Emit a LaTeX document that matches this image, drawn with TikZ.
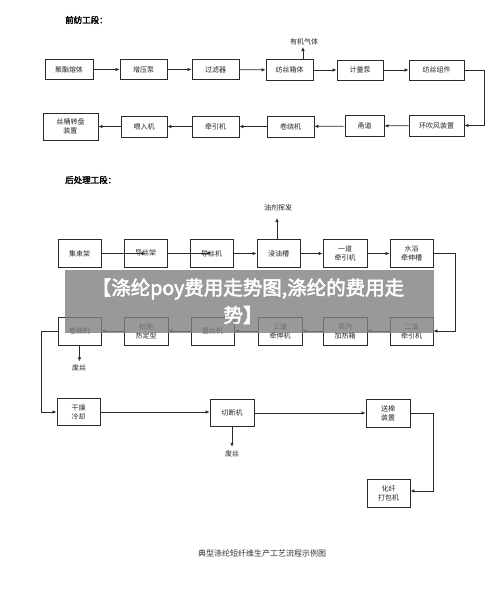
\documentclass[tikz,border=0pt]{standalone}
\usepackage{fontspec}
\setmainfont{Liberation Serif}
\newfontfamily\cjk[AutoFakeBold=2.5]{Noto Sans CJK SC}
\usetikzlibrary{arrows.meta}
\definecolor{ln}{HTML}{2A2A2A}
\tikzset{
  box/.style={draw=ln, line width=0.8pt, inner sep=0pt, align=center,
    font=\cjk\fontsize{7}{9}\selectfont, text=black!85},
  conn/.style={draw=ln, line width=0.7pt, -{Latex[length=4pt,width=3.5pt]}},
  lbl/.style={font=\cjk\fontsize{7}{9}\selectfont, text=black!85, inner sep=0pt},
  ttl/.style={font=\cjk\bfseries\fontsize{8.5}{10}\selectfont, anchor=west, inner sep=0pt},
  bannertext/.style={font=\cjk\bfseries\fontsize{19.5}{23}\selectfont, text=white, inner sep=0pt},
}
\begin{document}
\begin{tikzpicture}[x=1pt,y=-1pt]
\useasboundingbox (0,0) rectangle (500,603);
\fill[white] (0,0) rectangle (500,603);

% ---------- 前纺工段 ----------
\node[ttl] (t1) at (65,20) {前纺工段：};
\node[box, minimum width=48, minimum height=20] (a1) at (69,69.5) {聚酯熔体};
\node[box, minimum width=47, minimum height=20] (a2) at (143.5,69.5) {增压泵};
\node[box, minimum width=47, minimum height=20] (a3) at (215.5,69.5) {过滤器};
\node[box, minimum width=47, minimum height=21] (a4) at (289.5,70) {纺丝箱体};
\node[box, minimum width=46, minimum height=20] (a5) at (360,70) {计量泵};
\node[box, minimum width=55, minimum height=20] (a6) at (436.5,70) {纺丝组件};
\node[lbl] (g1) at (304,42) {有机气体};
\coordinate (g1b) at (303,47);

\node[box, minimum width=55, minimum height=27, text width=40] (b1) at (70.5,126.5) {丝桶转盘\\装置};
\node[box, minimum width=46, minimum height=21] (b2) at (144,126.5) {喂入机};
\node[box, minimum width=47, minimum height=21] (b3) at (215.5,126.5) {牵引机};
\node[box, minimum width=47, minimum height=21] (b4) at (290.5,126.5) {卷绕机};
\node[box, minimum width=39, minimum height=21] (b5) at (364.5,126) {甬道};
\node[box, minimum width=55, minimum height=21] (b6) at (436.5,125.5) {环吹风装置};

\draw[conn] (a1) -- (a2);
\draw[conn] (a2) -- (a3);
\draw[conn] (a3) -- (a4);
\draw[conn] (a4) -- (a5);
\draw[conn] (a5) -- (a6);
\draw[conn] (g1b |- a4.north) -- (g1b);
\draw[conn] (a6.east) -- (484,70) -- (484,125.5) -- (b6.east);
\draw[conn] (b6) -- (b5);
\draw[conn] (b5) -- (b4);
\draw[conn] (b4) -- (b3);
\draw[conn] (b3) -- (b2);
\draw[conn] (b2) -- (b1);

% ---------- 后处理工段 ----------
\node[ttl] (t2) at (65,180) {后处理工段：};
\node[box, minimum width=43, minimum height=28] (c1) at (79.5,253.5) {集束架};
\node[box, minimum width=43, minimum height=28] (c2) at (145.5,253) {导丝架};
\node[box, minimum width=43, minimum height=28] (c3) at (211.5,253.5) {导丝机};
\node[box, minimum width=43, minimum height=28] (c4) at (278.5,253.5) {浸油槽};
\node[box, minimum width=44, minimum height=28] (c5) at (345,253.5) {一道\\牵引机};
\node[box, minimum width=43, minimum height=28] (c6) at (411.5,253.5) {水浴\\牵伸槽};
\node[lbl] (g2) at (278,208) {油剂挥发};
\coordinate (g2b) at (277,218);

\node[box, minimum width=43, minimum height=28] (d1) at (79.5,331) {卷曲机};
\node[box, minimum width=44, minimum height=28] (d2) at (146,331) {松弛\\热定型};
\node[box, minimum width=43, minimum height=28] (d3) at (212.5,331) {叠丝机};
\node[box, minimum width=44, minimum height=28] (d4) at (280,331) {三道\\牵伸机};
\node[box, minimum width=44, minimum height=28] (d5) at (345,331) {蒸汽\\加热箱};
\node[box, minimum width=43, minimum height=28] (d6) at (411.5,331) {二道\\牵引机};
\node[lbl] (w1) at (79,368) {废丝};

\draw[conn] (c1) -- (c2 |- c1);
\draw[conn] (c2) -- (c3 |- c2);
\draw[conn] (c3) -- (c4);
\draw[conn] (c4) -- (c5);
\draw[conn] (c5) -- (c6);
\draw[conn] (g2b |- c4.north) -- (g2b);
\draw[conn] (c6.east) -- (455,253.5) -- (455,331) -- (d6.east);
\draw[conn] (d6) -- (d5);
\draw[conn] (d5) -- (d4);
\draw[conn] (d4) -- (d3);
\draw[conn] (d3) -- (d2);
\draw[conn] (d2) -- (d1);
\draw[conn] (d1.south) -- ++(0,16);

\node[box, minimum width=43, minimum height=27] (e1) at (78.5,412) {干燥\\冷却};
\node[box, minimum width=44, minimum height=27] (e2) at (232,413) {切断机};
\node[box, minimum width=44, minimum height=28] (e3) at (388,413) {送棉\\装置};
\node[box, minimum width=43, minimum height=28] (e4) at (388.5,493) {化纤\\打包机};
\node[lbl] (w2) at (232,454) {废丝};

\draw[conn] (d1.west) -- (41,331) -- (41,412) -- (e1.west);
\draw[conn] (e1.east) -- (e2.west |- e1.east);
\draw[conn] (e2) -- (e3);
\draw[conn] (e2.south) -- ++(0,20);
\draw[conn] (e3.east) -- (433,413) -- (433,491) -- (e4.east |- 0,491);

\node[font=\cjk\fontsize{8}{10}\selectfont, text=black!80, inner sep=0pt] (cap) at (262,553) {典型涤纶短纤维生产工艺流程示例图};

% ---------- banner ----------
\fill[black!50, opacity=0.8] (65,269.8) rectangle (434,333);
\node[bannertext] (bn1) at (248,289) {【涤纶poy费用走势图,涤纶的费用走};
\node[bannertext] (bn2) at (243,315) {势】};
\end{tikzpicture}
\end{document}
